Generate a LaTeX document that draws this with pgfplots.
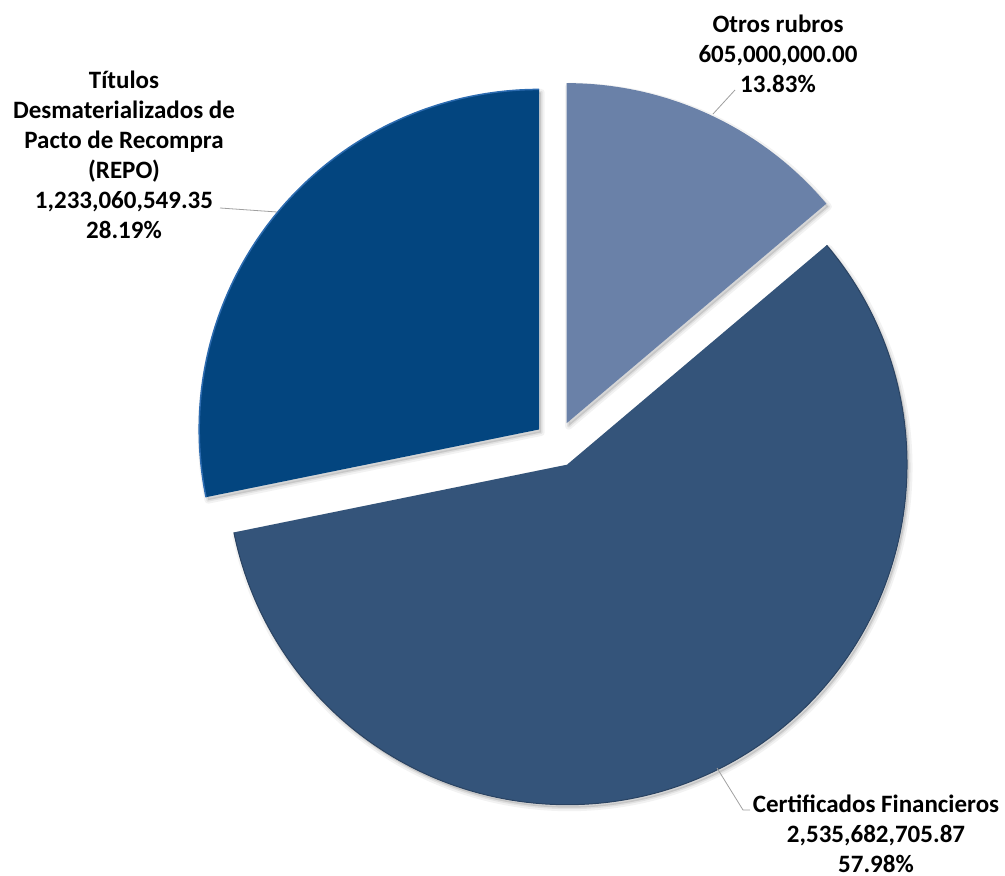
\documentclass[border=0pt]{standalone}
\usepackage{pgfplots}
\pgfplotsset{compat=1.18}
\usepackage{pgfplotstable}
\usepackage{fontspec}
\setmainfont{Carlito}

\definecolor{cOtros}{HTML}{6A81A8}
\definecolor{cCert}{HTML}{34547A}
\definecolor{cTit}{HTML}{03457F}
\definecolor{cTitEdge}{HTML}{2C6BB0}
\definecolor{leader}{HTML}{A0A0A0}

% slice values (order: clockwise from 12 o'clock)
\pgfplotstableread{
slice value
Otros 605000000.00
Certificados 2535682705.87
Titulos 1233060549.35
}\piedata

\pgfplotstablegetelem{0}{value}\of\piedata \edef\vA{\pgfplotsretval}
\pgfplotstablegetelem{1}{value}\of\piedata \edef\vB{\pgfplotsretval}
\pgfplotstablegetelem{2}{value}\of\piedata \edef\vC{\pgfplotsretval}
\edef\tot{\fpeval{\vA+\vB+\vC}}
\def\cx{557}\def\cy{432}\def\ex{23}
\edef\sA{90}
\edef\eA{\fpeval{90-360*\vA/\tot}}
\edef\eB{\fpeval{\eA-360*\vB/\tot}}
\edef\eC{\fpeval{\eB-360*\vC/\tot}}
\edef\mA{\fpeval{(\sA+\eA)/2}}
\edef\mB{\fpeval{(\eA+\eB)/2}}
\edef\mC{\fpeval{(\eB+\eC)/2}}
\edef\tAx{\fpeval{\cx+\ex*cosd(\mA)}}\edef\tAy{\fpeval{\cy+\ex*sind(\mA)}}
\edef\tBx{\fpeval{\cx+\ex*cosd(\mB)}}\edef\tBy{\fpeval{\cy+\ex*sind(\mB)}}
\edef\tCx{\fpeval{\cx+\ex*cosd(\mC)}}\edef\tCy{\fpeval{\cy+\ex*sind(\mC)}}
\def\R{340bp}

\newcommand\pieshadow[4]{%
  \fill[black,opacity=0.05,line join=round,draw=black,line width=7bp] ([xshift=2bp,yshift=-3bp]axis cs:#1,#2) -- ++(#3:\R) arc[start angle=#3,end angle=#4,radius=\R] -- cycle;
  \fill[black,opacity=0.07,line join=round,draw=black,line width=3bp] ([xshift=2bp,yshift=-3bp]axis cs:#1,#2) -- ++(#3:\R) arc[start angle=#3,end angle=#4,radius=\R] -- cycle;
}
\newcommand\piewedge[5]{%
  \fill[#1] (axis cs:#2,#3) -- ++(#4:\R) arc[start angle=#4,end angle=#5,radius=\R] -- cycle;
}

\begin{document}
\begin{tikzpicture}
\begin{axis}[
  x=1bp, y=1bp, scale only axis,
  xmin=0, xmax=1005, ymin=0, ymax=876,
  hide axis, clip=false,
]
\path (axis cs:0,0) rectangle (axis cs:1005,876);
\pieshadow{\tAx}{\tAy}{\sA}{\eA}
\pieshadow{\tBx}{\tBy}{\eA}{\eB}
\pieshadow{\tCx}{\tCy}{\eB}{\eC}
\piewedge{cOtros}{\tAx}{\tAy}{\sA}{\eA}
\piewedge{cCert}{\tBx}{\tBy}{\eA}{\eB}
\piewedge{cTit}{\tCx}{\tCy}{\eB}{\eC}
\draw[cTitEdge,line width=1.5bp] ([shift={(\eB:\R)}]axis cs:\tCx,\tCy) arc[start angle=\eB,end angle=\eC,radius=\R];
\draw[cCert!80!black,line width=1bp] ([shift={(\eA:\R)}]axis cs:\tBx,\tBy) arc[start angle=\eA,end angle=\eB,radius=\R];

% leader lines
\draw[leader,line width=0.8bp] (axis cs:735,786) -- (axis cs:713,762);
\draw[leader,line width=0.8bp] (axis cs:220,668) -- (axis cs:277,664);
\draw[leader,line width=0.8bp] (axis cs:717,108) -- (axis cs:743,66) -- (axis cs:750,66);

% labels
\tikzset{lbl/.style={align=center,inner sep=0pt,font=\fontsize{25bp}{30bp}\selectfont\bfseries}}
\node[lbl] at (axis cs:778,822) {Otros rubros\\605,000,000.00\\13.83\%};
\node[lbl] at (axis cs:124,721) {Títulos\\Desmaterializados de\\Pacto de Recompra\\(REPO)\\1,233,060,549.35\\28.19\%};
\node[lbl] at (axis cs:876,42) {Certificados Financieros\\2,535,682,705.87\\57.98\%};
\end{axis}
\end{tikzpicture}
\end{document}
